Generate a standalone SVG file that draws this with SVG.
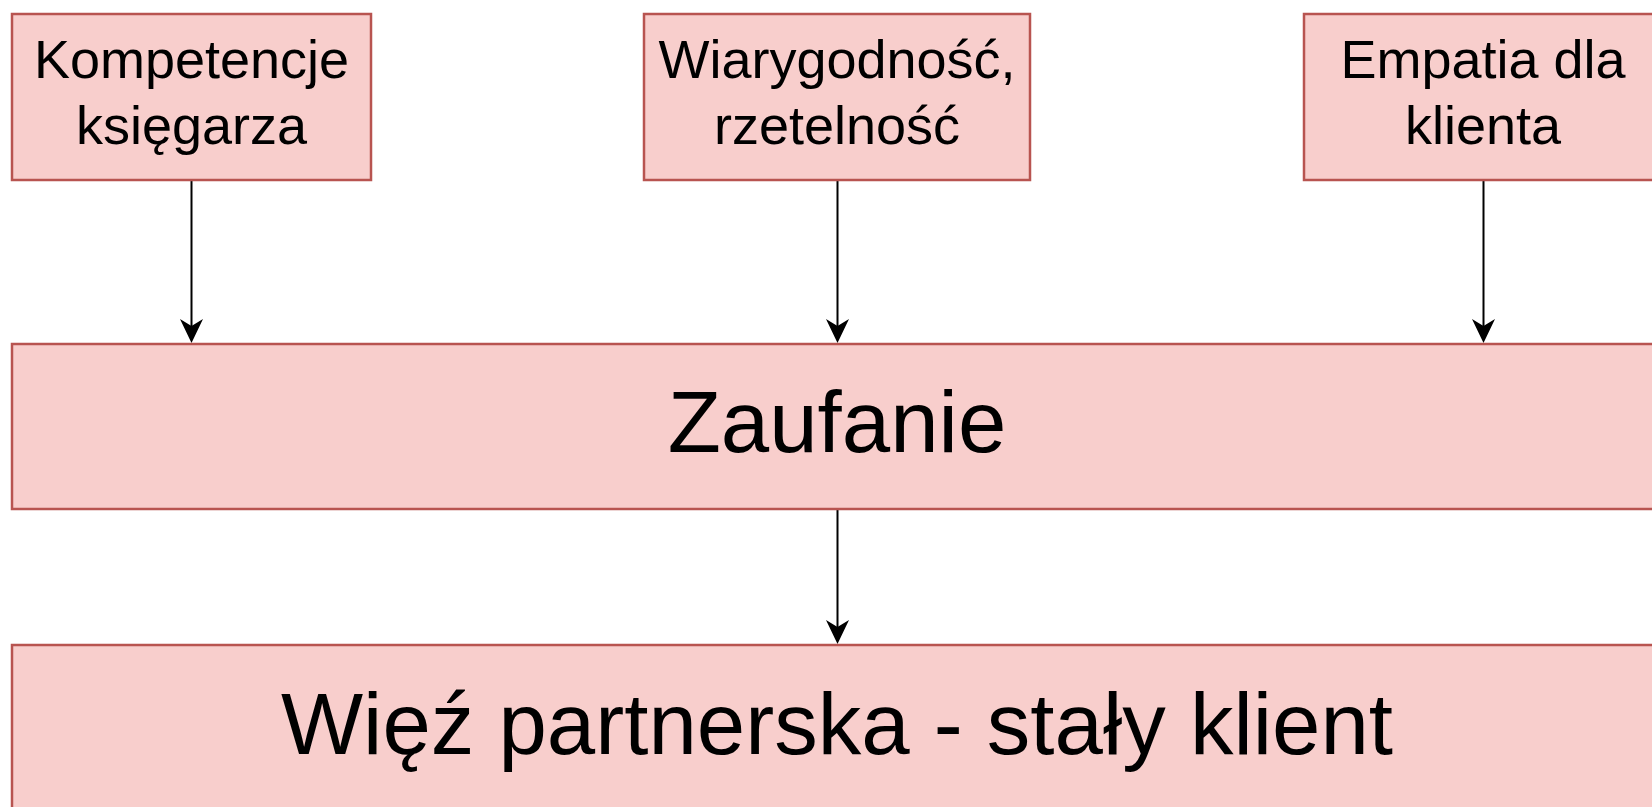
<svg xmlns="http://www.w3.org/2000/svg" width="1652" height="807" viewBox="0 0 1652 807">
  <style>
    .box { fill: #f8cecc; stroke: #b85450; stroke-width: 2.5; }
    .t { font-family: "Liberation Sans", Arial, sans-serif; fill: #000000; text-anchor: middle; }
    .small { font-size: 54px; }
    .big { font-size: 87px; }
    .edge { stroke: #000000; stroke-width: 2; fill: none; marker-end: url(#arrow); }
  </style>
  <defs>
    <marker id="arrow" markerUnits="userSpaceOnUse" markerWidth="26" markerHeight="24" viewBox="-25 -12 26 24" refX="-16" refY="0" orient="auto" overflow="visible">
      <path d="M0,0 L-24,-11.5 L-17,0 L-24,11.5 Z" fill="#000000"/>
    </marker>
  </defs>
  <rect width="1652" height="807" fill="#ffffff"/>

  <g id="connectors">
    <path class="edge" d="M191.5,180 V327"/>
    <path class="edge" d="M837.5,180 V327"/>
    <path class="edge" d="M1483.5,180 V327"/>
    <path class="edge" d="M837.5,509 V628"/>
  </g>

  <g id="node-kompetencje">
    <rect class="box" x="12" y="14" width="359" height="166"/>
    <text class="t small" x="191.5" y="78">Kompetencje</text>
    <text class="t small" x="191.5" y="144">księgarza</text>
  </g>

  <g id="node-wiarygodnosc">
    <rect class="box" x="644" y="14" width="386" height="166"/>
    <text class="t small" x="837" y="78">Wiarygodność,</text>
    <text class="t small" x="837" y="144">rzetelność</text>
  </g>

  <g id="node-empatia">
    <rect class="box" x="1304" y="14" width="358" height="166"/>
    <text class="t small" x="1483" y="78">Empatia dla</text>
    <text class="t small" x="1483" y="144">klienta</text>
  </g>

  <g id="node-zaufanie">
    <rect class="box" x="12" y="344" width="1650" height="165"/>
    <text class="t big" x="837" y="452">Zaufanie</text>
  </g>

  <g id="node-wiez">
    <rect class="box" x="12" y="645" width="1650" height="170"/>
    <text class="t big" x="837" y="754">Więź partnerska - stały klient</text>
  </g>
</svg>
